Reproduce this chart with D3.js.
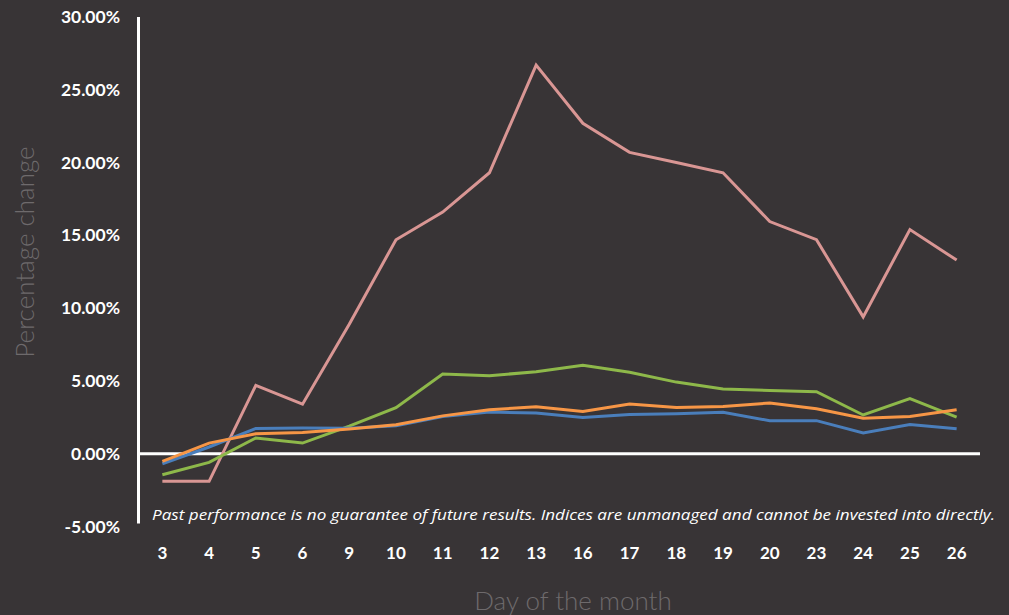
<!DOCTYPE html>
<html><head><meta charset="utf-8">
<script src="https://cdn.jsdelivr.net/npm/d3@7"></script>
<style>html,body{margin:0;padding:0;background:#383436;}svg{display:block;}</style>
</head><body>
<svg id="c" width="1009" height="615"></svg>
<script>
const days = ["3","4","5","6","9","10","11","12","13","16","17","18","19","20","23","24","25","26"];
const pink   = [-1.9,-1.9,4.7,3.4,8.9,14.7,16.6,19.3,26.7,22.7,20.7,20.0,19.3,15.95,14.7,9.4,15.4,13.3];
const green  = [-1.44,-0.6,1.08,0.73,1.9,3.16,5.47,5.36,5.63,6.07,5.6,4.92,4.44,4.35,4.26,2.66,3.78,2.52];
const orange = [-0.53,0.73,1.37,1.46,1.7,1.99,2.6,3.02,3.23,2.9,3.41,3.18,3.25,3.48,3.09,2.43,2.56,3.02];
const blue   = [-0.69,0.46,1.74,1.76,1.75,1.92,2.56,2.86,2.79,2.49,2.7,2.75,2.84,2.27,2.27,1.42,2.01,1.72];
const yTicks = [-5,0,5,10,15,20,25,30];
const seriesList = [
  {name:"pink", values:pink, color:"#d99694"},
  {name:"green", values:green, color:"#8eb84a"},
  {name:"blue", values:blue, color:"#4a7ebb"},
  {name:"orange", values:orange, color:"#f79646"}
];
const note = "Past performance is no guarantee of future results. Indices are unmanaged and cannot be invested into directly.";

const svg = d3.select("#c");
const x = d3.scaleBand().domain(days).range([139, 980]);
const y = d3.scaleLinear().domain([-5, 30]).range([526.5, 17]);

// y tick labels
svg.append("g").selectAll("text").data(yTicks).join("text")
  .attr("x", 120).attr("y", d => y(d)).attr("dy", "0.35em")
  .attr("text-anchor", "end").attr("fill", "#ffffff")
  .attr("font-family", "Lato, 'Open Sans', sans-serif").attr("font-weight", "bold").attr("font-size", 17.5)
  .text(d => d.toFixed(2) + "%");

// y axis line
svg.append("line").attr("x1", 138.5).attr("x2", 138.5).attr("y1", y(30)).attr("y2", y(-5) - 3)
  .attr("stroke", "#ffffff").attr("stroke-width", 3);
// zero line
svg.append("line").attr("x1", 138).attr("x2", 980).attr("y1", y(0)).attr("y2", y(0))
  .attr("stroke", "#ffffff").attr("stroke-width", 3);

// lines
const line = d3.line().x((d, i) => x(days[i]) + x.bandwidth() / 2).y(d => y(d));
svg.append("g").selectAll("path").data(seriesList).join("path")
  .attr("d", s => line(s.values)).attr("fill", "none")
  .attr("stroke", s => s.color).attr("stroke-width", 3).attr("stroke-linejoin", "miter");

// note
svg.append("text").attr("x", 152).attr("y", 520)
  .attr("fill", "#ffffff").attr("font-family", "'Open Sans', sans-serif").attr("font-style", "italic")
  .attr("font-size", 14.5).attr("textLength", 843).attr("lengthAdjust", "spacingAndGlyphs")
  .text(note);

// x tick labels
svg.append("g").selectAll("text").data(days).join("text")
  .attr("x", d => x(d) + x.bandwidth() / 2).attr("y", 553).attr("dy", "0.35em")
  .attr("text-anchor", "middle").attr("fill", "#ffffff")
  .attr("font-family", "Lato, 'Open Sans', sans-serif").attr("font-weight", "bold").attr("font-size", 17)
  .text(d => d);

// axis titles
svg.append("text").attr("x", 573).attr("y", 610)
  .attr("text-anchor", "middle").attr("fill", "#6e6a6c")
  .attr("font-family", "Lato, sans-serif").attr("font-weight", 300).attr("font-size", 26)
  .text("Day of the month");
svg.append("text").attr("transform", "translate(34,252) rotate(-90)")
  .attr("text-anchor", "middle").attr("fill", "#6e6a6c")
  .attr("font-family", "Lato, sans-serif").attr("font-weight", 300).attr("font-size", 26)
  .text("Percentage change");
</script>
</body></html>
